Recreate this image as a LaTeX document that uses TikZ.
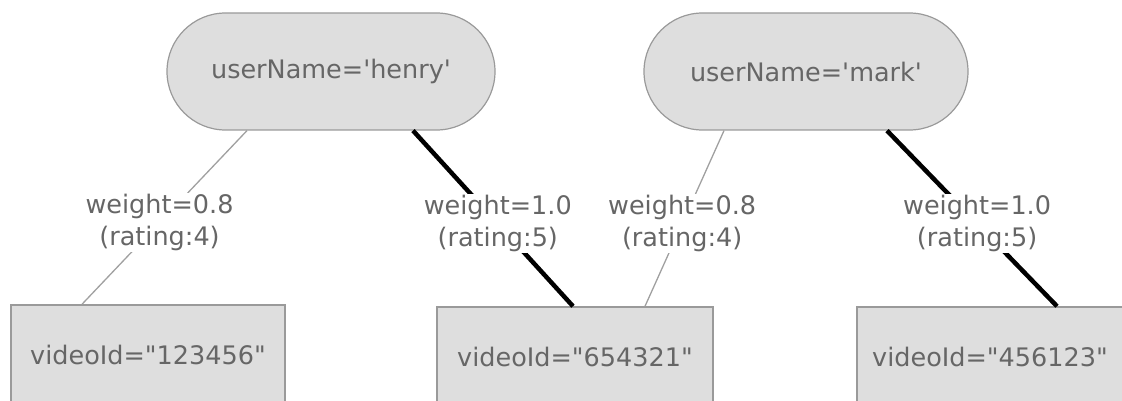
\documentclass[tikz,border=0pt]{standalone}
\usepackage{fontspec}
% TeX ligatures off, so ' and " stay straight
\setmainfont{DejaVu Sans}[Ligatures=TeXOff]
\definecolor{boxfill}{HTML}{DEDEDE}
\definecolor{boxline}{HTML}{9A9A9A}
\definecolor{txt}{HTML}{666666}
\definecolor{thinedge}{HTML}{A0A0A0}
\begin{document}
\begin{tikzpicture}[x=1pt,y=-1pt,
  every node/.style={font=\fontsize{25.5}{32}\selectfont, text=txt},
  user/.style={draw=boxline, line width=1.2pt, fill=boxfill, rounded corners=58.5pt,
    minimum height=117pt, inner sep=0pt},
  video/.style={draw=boxline, line width=1.5pt, fill=boxfill, minimum height=100pt, inner sep=0pt},
  weak/.style={draw=thinedge, line width=1.3pt},
  strong/.style={draw=black, line width=4.5pt},
  lbl/.style={fill=white, align=center, inner sep=1pt}]
\useasboundingbox (0,0) rectangle (1122,401);
\clip (0,0) rectangle (1122,401);

% users
\node[user, minimum width=328pt] (henry) at (331,71.5) {userName='henry'};
\node[user, minimum width=324pt] (mark) at (806,71.5) {userName='mark'};

% videos
\node[video, minimum width=274pt] (v1) at (148,355) {videoId="123456"};
\node[video, minimum width=276pt] (v2) at (575,357) {videoId="654321"};
\node[video, minimum width=266pt] (v3) at (990,357) {videoId="456123"};

% ratings
\draw[weak] ([xshift=-84pt]henry.south) -- ([xshift=-66pt]v1.north)
  node[lbl, pos=0.53] {weight=0.8\\(rating:4)};
\draw[strong] ([xshift=82pt]henry.south) -- ([xshift=-2pt]v2.north)
  node[lbl, pos=0.53] {weight=1.0\\(rating:5)};
\draw[weak] ([xshift=-82pt]mark.south) -- ([xshift=70pt]v2.north)
  node[lbl, pos=0.53] {weight=0.8\\(rating:4)};
\draw[strong] ([xshift=81pt]mark.south) -- ([xshift=67pt]v3.north)
  node[lbl, pos=0.53] {weight=1.0\\(rating:5)};
\end{tikzpicture}
\end{document}
